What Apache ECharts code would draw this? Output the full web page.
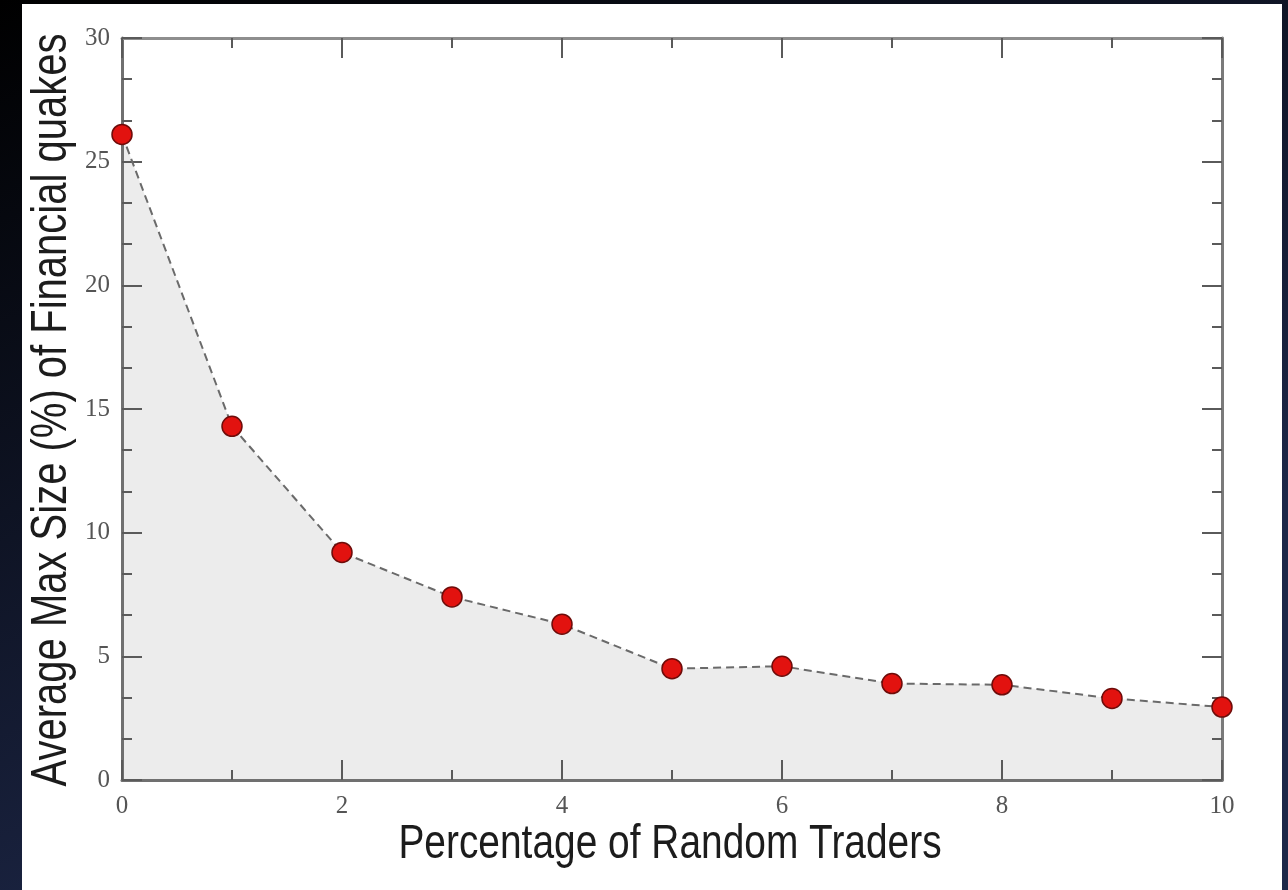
<!DOCTYPE html>
<html>
<head>
<meta charset="utf-8">
<script src="https://cdn.jsdelivr.net/npm/echarts@6/dist/echarts.min.js"></script>
<style>html,body{margin:0;padding:0;background:#000;}#c{width:1288px;height:890px;}</style>
</head>
<body>
<div id="c"></div>
<script>
// Data
const xValues = [0, 1, 2, 3, 4, 5, 6, 7, 8, 9, 10];
const yValues = [26.1, 14.3, 9.2, 7.4, 6.3, 4.5, 4.6, 3.9, 3.85, 3.3, 2.95];
const xTitle = 'Percentage of Random Traders';
const yTitle = 'Average Max Size (%) of Financial quakes';

const points = xValues.map((x, i) => [x, yValues[i]]);

const chart = echarts.init(document.getElementById('c'), null, {renderer: 'canvas'});

const tickStyle = {color: '#5a5a5a', width: 2};

function mkX(pos, showLabel, lineColor) {
  return {
    type: 'value', position: pos, min: 0, max: 10, interval: 2, z: 1,
    axisLine: {show: true, onZero: false, lineStyle: {color: lineColor, width: 3}},
    axisTick: {show: true, inside: true, length: 20, lineStyle: tickStyle},
    minorTick: {show: true, splitNumber: 2, length: 10, lineStyle: tickStyle},
    splitLine: {show: false},
    axisLabel: {show: showLabel, margin: 14, color: '#555', fontFamily: 'Liberation Serif', fontSize: 25}
  };
}
function mkY(pos, showLabel, lineColor) {
  return {
    type: 'value', position: pos, min: 0, max: 30, interval: 5, z: 1,
    axisLine: {show: true, onZero: false, lineStyle: {color: lineColor, width: 3}},
    axisTick: {show: true, inside: true, length: 20, lineStyle: tickStyle},
    minorTick: {show: true, splitNumber: 3, length: 10, lineStyle: tickStyle},
    splitLine: {show: false},
    axisLabel: {show: showLabel, margin: 12, color: '#555', fontFamily: 'Liberation Serif', fontSize: 25}
  };
}

chart.setOption({
  animation: false,
  backgroundColor: {
    type: 'linear', x: 0, y: 0, x2: 0.3, y2: 1,
    colorStops: [{offset: 0, color: '#000000'}, {offset: 1, color: '#1d2748'}]
  },
  grid: {left: 122, right: 66, top: 38, bottom: 110, containLabel: false},
  graphic: [
    {type: 'rect', z: -10, shape: {x: 22, y: 4, width: 1260, height: 886}, style: {fill: '#ffffff'}},
    {type: 'text', z: 100, x: 52, y: 410, rotation: Math.PI / 2, scaleX: 0.8,
     style: {text: yTitle, font: '50px "Liberation Sans"', fill: '#1c1c1c', align: 'center', verticalAlign: 'middle'}},
    {type: 'text', z: 100, x: 670, y: 845, scaleX: 0.81,
     style: {text: xTitle, font: '48px "Liberation Sans"', fill: '#1c1c1c', align: 'center', verticalAlign: 'middle'}}
  ],
  xAxis: [mkX('bottom', true, '#707070'), mkX('top', false, '#8e8e8e')],
  yAxis: [mkY('left', true, '#707070'), mkY('right', false, '#7a7a7a')],
  series: [{
    type: 'line',
    xAxisIndex: 0, yAxisIndex: 0,
    data: points,
    symbol: 'none',
    lineStyle: {width: 0, opacity: 0},
    areaStyle: {color: '#ececec', opacity: 1},
    silent: true,
    z: 0
  }, {
    type: 'line',
    xAxisIndex: 0, yAxisIndex: 0,
    data: points,
    symbol: 'circle',
    symbolSize: 20,
    itemStyle: {color: '#e2120f', borderColor: '#6e0c0a', borderWidth: 1.5},
    lineStyle: {color: '#6a6a6a', width: 2, type: [8, 5]},
    z: 3
  }]
});
</script>
</body>
</html>
